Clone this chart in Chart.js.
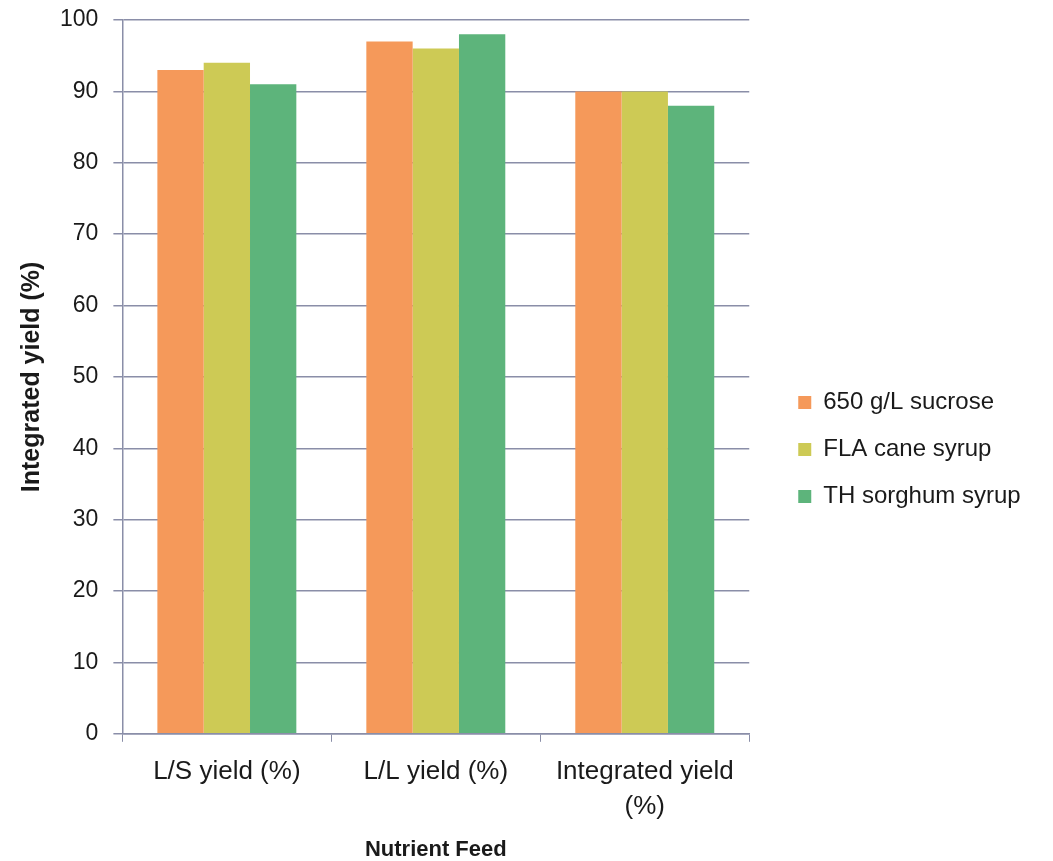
<!DOCTYPE html>
<html>
<head>
<meta charset="utf-8">
<script src="https://cdn.jsdelivr.net/npm/chart.js@4"></script>
<style>
html,body{margin:0;padding:0;background:#fff;}
#wrap{width:1053px;height:861px;}
</style>
</head>
<body>
<div id="wrap"><canvas id="c"></canvas></div>
<script>
const categories = ["L/S yield (%)", "L/L yield (%)", ["Integrated yield", "(%)"]];
const sucrose = [93, 97, 90];
const caneSyrup = [94, 96, 90];
const sorghumSyrup = [91, 98, 88];
const seriesNames = ["650 g/L sucrose", "FLA cane syrup", "TH sorghum syrup"];
const yTicks = [0, 10, 20, 30, 40, 50, 60, 70, 80, 90, 100];

const FONT = "'Liberation Sans', Arial, sans-serif";
const gridColor = "#8a8ea8";

const legendShift = {
  id: 'legendShift',
  afterLayout(chart) {
    const lg = chart.legend;
    if (lg) {
      lg.top += 9; lg.bottom += 9;
      lg.left += 26; lg.right += 26;
    }
  }
};

new Chart(document.getElementById('c'), {
  type: 'bar',
  data: {
    labels: categories,
    datasets: [
      { label: seriesNames[0], data: sucrose, backgroundColor: '#f5995a' },
      { label: seriesNames[1], data: caneSyrup, backgroundColor: '#cdca55' },
      { label: seriesNames[2], data: sorghumSyrup, backgroundColor: '#5db47b' }
    ]
  },
  options: {
    responsive: true,
    maintainAspectRatio: false,
    animation: false,
    layout: { padding: { top: 20, right: 59, left: 15, bottom: 0 } },
    datasets: { bar: { categoryPercentage: 0.665, barPercentage: 1.0 } },
    plugins: {
      legend: {
        position: 'right',
        align: 'center',
        labels: {
          boxWidth: 13, boxHeight: 13, padding: 23,
          color: '#1a1a1a', font: { family: FONT, size: 24 }
        }
      },
      tooltip: { enabled: false }
    },
    scales: {
      x: {
        grid: { display: true, drawOnChartArea: false, color: gridColor, tickLength: 8, offset: true },
        border: { color: gridColor, width: 1.5 },
        ticks: { color: '#1a1a1a', font: { family: FONT, size: 26, lineHeight: 1.35 }, padding: 12, maxRotation: 0, autoSkip: false },
        title: { display: true, text: 'Nutrient Feed', color: '#1a1a1a', font: { family: FONT, size: 22, weight: 'bold', lineHeight: 1.0 }, padding: { top: 3, bottom: 0 } }
      },
      y: {
        min: 0, max: 100,
        afterBuildTicks(axis) { axis.ticks = yTicks.map(v => ({ value: v })); },
        afterFit(scale) { scale.paddingTop = 0; },
        grid: { color: gridColor, lineWidth: 1.5, tickLength: 9 },
        border: { color: gridColor, width: 1.5 },
        ticks: { color: '#1a1a1a', font: { family: FONT, size: 23 }, padding: 15 },
        title: { display: true, text: 'Integrated yield (%)', color: '#1a1a1a', font: { family: FONT, size: 25, weight: 'bold', lineHeight: 1.0 }, padding: { top: 5, bottom: 0 } }
      }
    }
  },
  plugins: [legendShift]
});
</script>
</body>
</html>
